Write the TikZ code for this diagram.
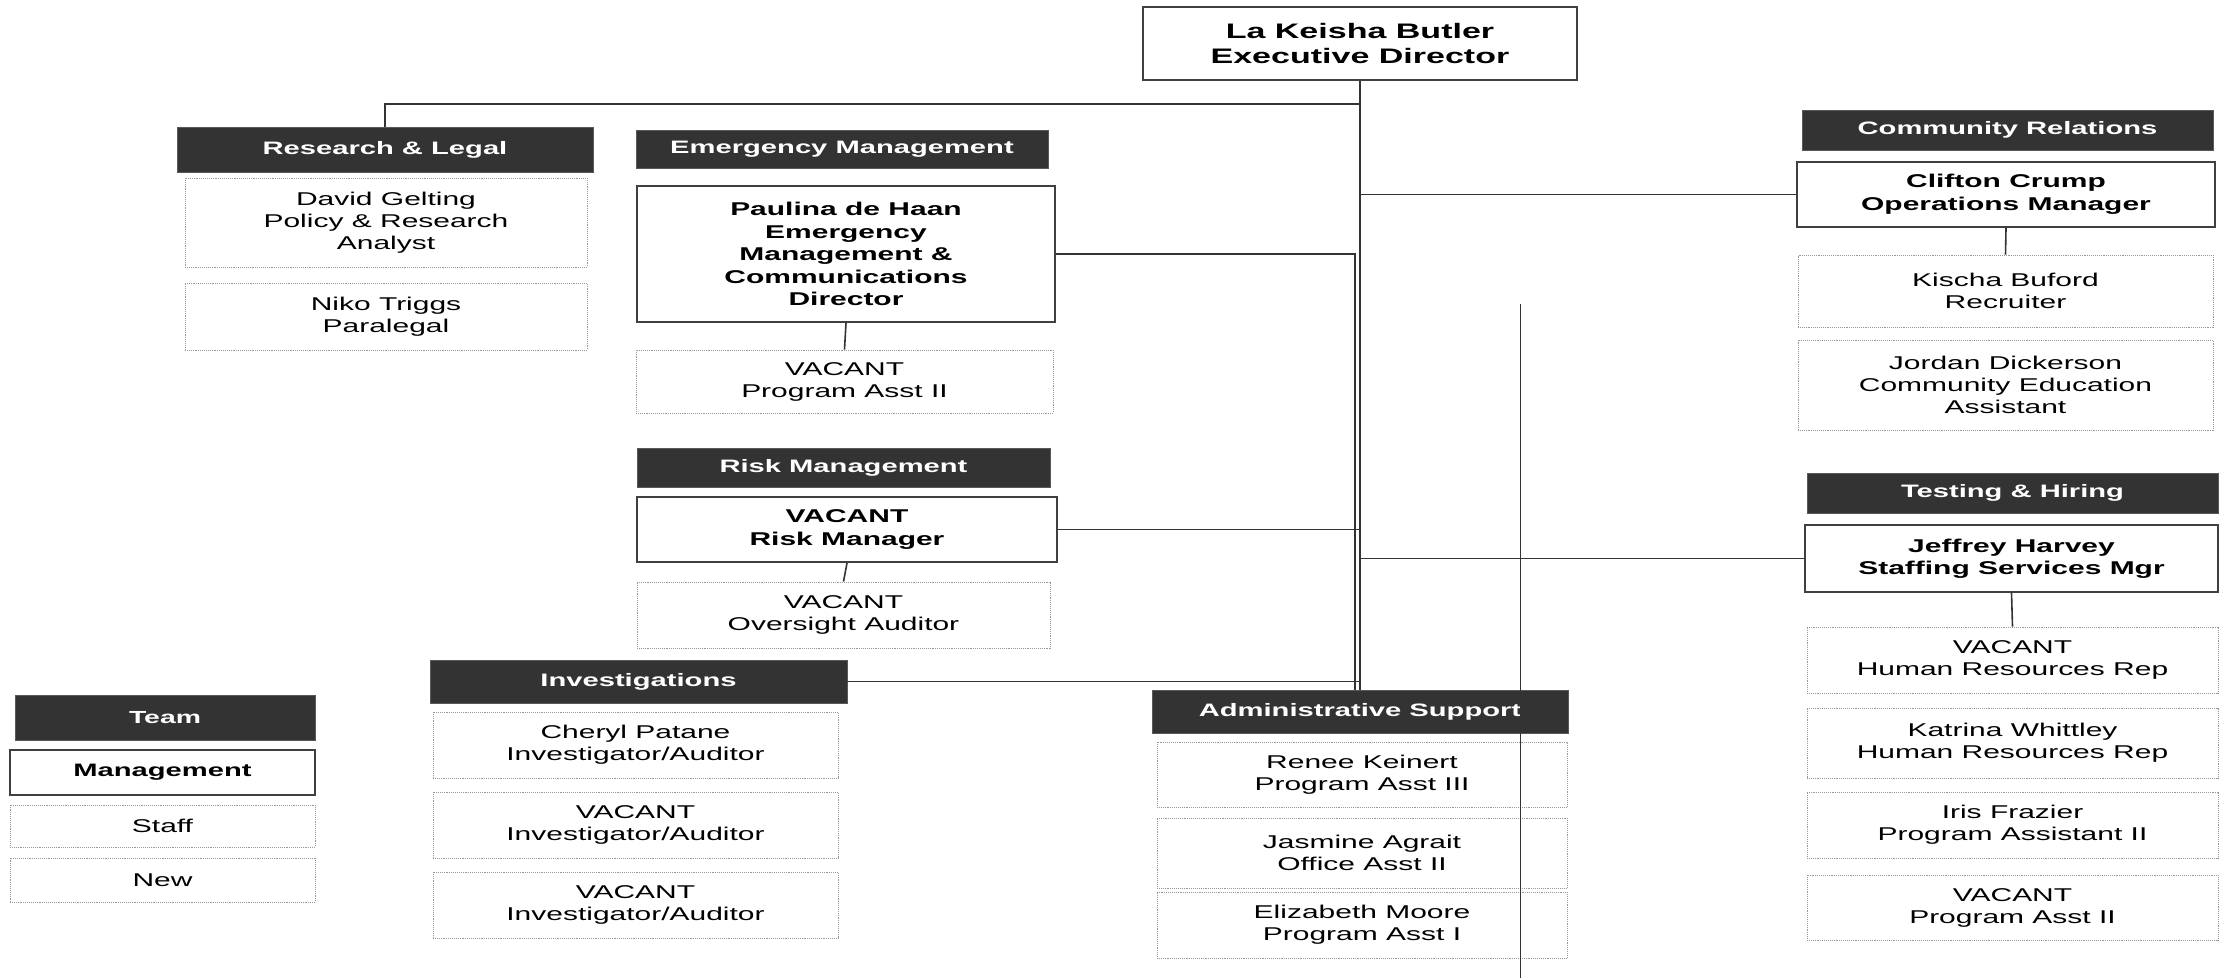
\documentclass[tikz,border=0pt]{standalone}
\usepackage{fontspec}
\setmainfont{Liberation Sans}[FakeStretch=1.62]
\begin{document}
\begin{tikzpicture}[x=1pt,y=-1pt,
  wh/.style 2 args={minimum width=#1pt,minimum height=#2pt},
  hdr/.style={fill=black!80,draw=black!65,line width=0.8pt,text=white,
    font=\bfseries\fontsize{18}{21}\selectfont,inner sep=0pt,align=center},
  mgr/.style={draw=black!75,line width=2pt,fill=white,
    font=\bfseries\fontsize{18.5}{22.5}\selectfont,align=center,inner sep=0pt},
  stf/.style={draw=black!40,densely dotted,line width=0.9pt,
    font=\fontsize{18.5}{22}\selectfont,align=center,inner sep=0pt},
  conn/.style={draw=black!80,line width=1.6pt},
  stray/.style={draw=black!80,line width=1pt}
]
\fill[white] (0,0) rectangle (2220,978);
\useasboundingbox (0,0) rectangle (2220,978);

% Executive
\node[mgr,wh={434}{73},font=\bfseries\fontsize{21}{25}\selectfont] (exec) at (1360,43.5) {La Keisha Butler\\Executive Director};

% Research & Legal
\node[hdr,wh={416}{45}] (rlh) at (385,149.5) {Research \& Legal};
\node[stf,wh={402}{89}] (rl1) at (386,222.5) {David Gelting\\Policy \& Research\\Analyst};
\node[stf,wh={402}{67}] (rl2) at (386,316.5) {Niko Triggs\\Paralegal};

% Emergency Management
\node[hdr,wh={412}{38}] (emh) at (842,149) {Emergency Management};
\node[mgr,wh={418}{136}] (emm) at (846,254) {Paulina de Haan\\Emergency\\Management \&\\Communications\\Director};
\node[stf,wh={417}{63}] (em1) at (844.5,381.5) {VACANT\\Program Asst II};

% Risk Management
\node[hdr,wh={413}{39}] (rmh) at (843.5,467.5) {Risk Management};
\node[mgr,wh={420}{65}] (rmm) at (847,529.5) {VACANT\\Risk Manager};
\node[stf,wh={413}{66}] (rm1) at (843.5,615) {VACANT\\Oversight Auditor};

% Investigations
\node[hdr,wh={417}{43}] (invh) at (638.5,681.5) {Investigations};
\node[stf,wh={405}{66}] (inv1) at (635.5,745) {Cheryl Patane\\Investigator/Auditor};
\node[stf,wh={405}{66}] (inv2) at (635.5,825) {VACANT\\Investigator/Auditor};
\node[stf,wh={405}{66}] (inv3) at (635.5,905) {VACANT\\Investigator/Auditor};

% Team legend
\node[hdr,wh={300}{45},font=\bfseries\fontsize{17.5}{20}\selectfont] (teamh) at (165,717.5) {Team};
\node[mgr,wh={305}{45},font=\bfseries\fontsize{18}{21}\selectfont] (teamm) at (162.5,772.5) {Management};
\node[stf,wh={305}{42}] (teams) at (162.5,826) {Staff};
\node[stf,wh={305}{44}] (teamn) at (162.5,880) {New};

% Administrative Support
\node[hdr,wh={416}{43}] (admh) at (1360,711.5) {Administrative Support};
\node[stf,wh={410}{65}] (adm1) at (1362,774.5) {Renee Keinert\\Program Asst III};
\node[stf,wh={410}{70}] (adm2) at (1362,853) {Jasmine Agrait\\Office Asst II};
\node[stf,wh={410}{66}] (adm3) at (1362,925) {Elizabeth Moore\\Program Asst I};

% Community Relations
\node[hdr,wh={411}{40}] (crh) at (2007.5,130) {Community Relations};
\node[mgr,wh={418}{65}] (crm) at (2006,194.5) {Clifton Crump\\Operations Manager};
\node[stf,wh={415}{72}] (cr1) at (2005.5,291) {Kischa Buford\\Recruiter};
\node[stf,wh={415}{90}] (cr2) at (2005.5,385) {Jordan Dickerson\\Community Education\\Assistant};

% Testing & Hiring
\node[hdr,wh={411}{40}] (thh) at (2012.5,493) {Testing \& Hiring};
\node[mgr,wh={413}{67}] (thm) at (2011.5,558.5) {Jeffrey Harvey\\Staffing Services Mgr};
\node[stf,wh={411}{66}] (th1) at (2012.5,660) {VACANT\\Human Resources Rep};
\node[stf,wh={411}{70}] (th2) at (2012.5,743) {Katrina Whittley\\Human Resources Rep};
\node[stf,wh={411}{66}] (th3) at (2012.5,825) {Iris Frazier\\Program Assistant II};
\node[stf,wh={411}{65}] (th4) at (2012.5,907.5) {VACANT\\Program Asst II};

% Connectors
\coordinate (j1) at (1360,104);
\coordinate (t1) at (1355,254);
\draw[conn] (exec.south) -- (admh.north);
\draw[conn] (j1) -| (rlh.north);
\draw[conn] (emm.east) -- (emm.east -| t1) -- (t1 |- admh.north);
\draw[conn] (rmm.east) -- (rmm.east -| exec.south);
\draw[conn] (invh.east) -- (invh.east -| exec.south);
\draw[conn] (crm.west) -- (crm.west -| exec.south);
\draw[conn] (thm.west) -- (thm.west -| exec.south);
\draw[conn] (emm.south) -- (em1.north);
\draw[conn] (rmm.south) -- (rm1.north);
\draw[conn] (crm.south) -- (cr1.north);
\draw[conn] (thm.south) -- (th1.north);

% stray vertical line
\coordinate (s1) at (1520,304);
\coordinate (s2) at (1520,978);
\draw[stray] (s1) -- (s2);
\end{tikzpicture}
\end{document}
